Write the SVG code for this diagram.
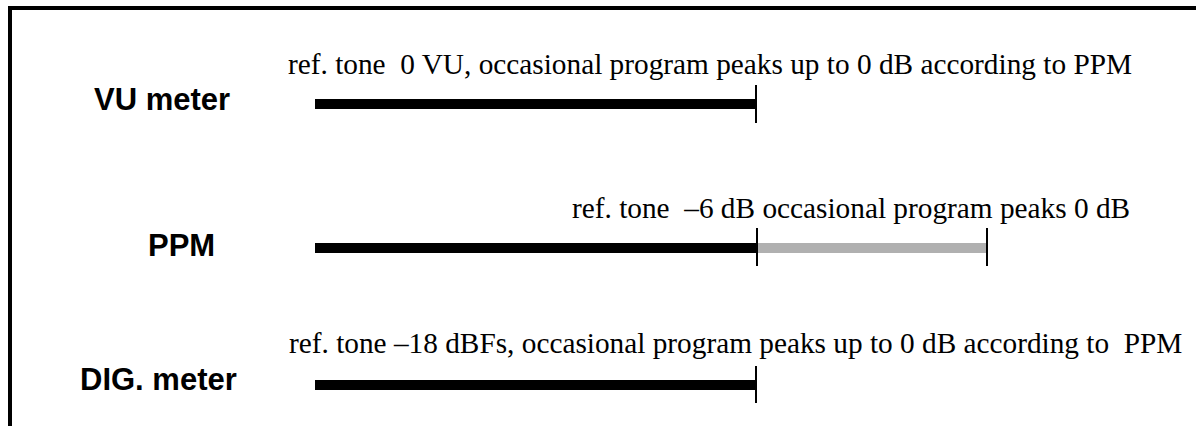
<svg xmlns="http://www.w3.org/2000/svg" width="1196" height="426" viewBox="0 0 1196 426">
<style>
.lbl{font-family:"Liberation Sans",Arial,sans-serif;font-weight:bold;font-size:31px;fill:#000}
.cap{font-family:"Liberation Serif","Times New Roman",serif;font-size:29.3px;fill:#000;white-space:pre}
.bar{fill:#000}
.peak{fill:#b0b0b0}
.tick{stroke:#000;stroke-width:2;fill:none}
</style>
<rect width="1196" height="426" fill="#fff"/>
<path d="M10,426 V8 H1196" fill="none" stroke="#000" stroke-width="4"/>
<g id="vu">
<text class="lbl" x="94" y="110">VU meter</text>
<text class="cap" x="288" y="74" xml:space="preserve">ref. tone  0 VU, occasional program peaks up to 0 dB according to PPM</text>
</g>
<g id="ppm">
<text class="lbl" x="148" y="256">PPM</text>
<text class="cap" x="572" y="218" xml:space="preserve">ref. tone  –6 dB occasional program peaks 0 dB</text>
</g>
<g id="dig">
<text class="lbl" x="80" y="390">DIG. meter</text>
<text class="cap" x="289" y="353" xml:space="preserve">ref. tone –18 dBFs, occasional program peaks up to 0 dB according to  PPM</text>
</g>
<g id="connectors">
<rect class="bar" x="315" y="99" width="441" height="10"/>
<line class="tick" x1="756" y1="85" x2="756" y2="123"/>
<rect class="bar" x="315" y="243" width="442" height="10"/>
<rect class="peak" x="757" y="243" width="230" height="10"/>
<line class="tick" x1="757" y1="228" x2="757" y2="266"/>
<line class="tick" x1="987" y1="228" x2="987" y2="266"/>
<rect class="bar" x="315" y="380" width="441" height="10"/>
<line class="tick" x1="756" y1="366" x2="756" y2="403"/>
</g>
</svg>
